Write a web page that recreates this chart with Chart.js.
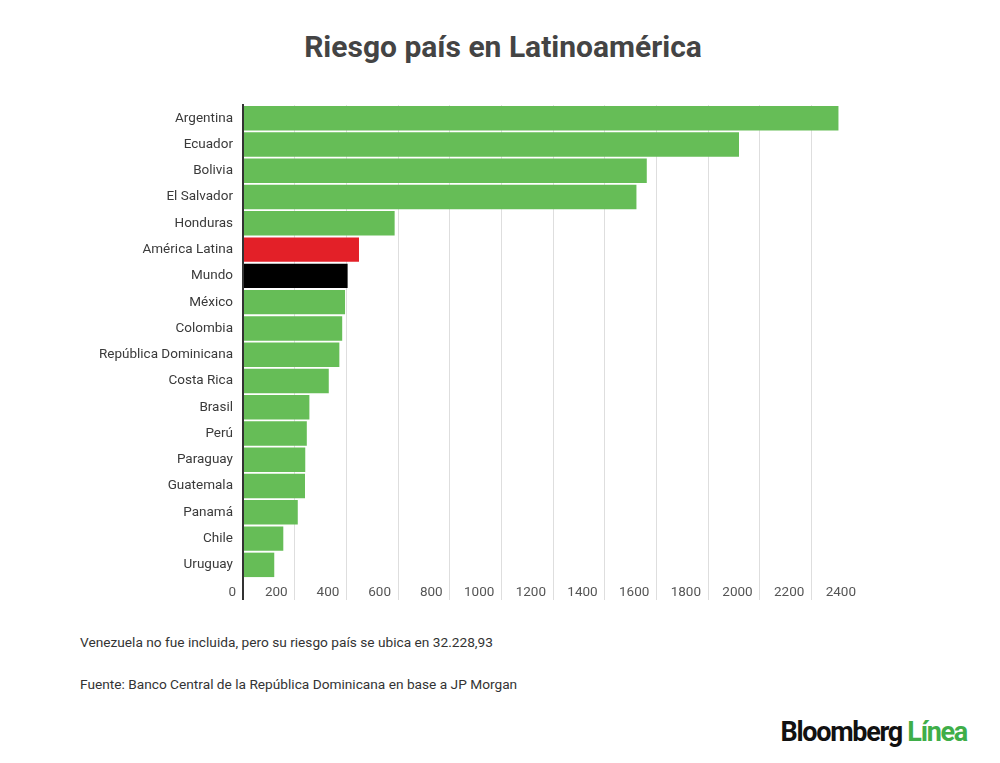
<!DOCTYPE html>
<html>
<head>
<meta charset="utf-8">
<script src="https://cdn.jsdelivr.net/npm/chart.js@4/dist/chart.umd.min.js"></script>
<style>
  html, body { margin: 0; padding: 0; background: #fff; }
  body { width: 1000px; height: 763px; position: relative; overflow: hidden; font-family: Roboto, sans-serif; }
  #title { position: absolute; top: 29px; left: 0; width: 1006px; text-align: center; font: bold 30px Roboto, sans-serif; color: #444; }
  #wrap { position: absolute; left: 0; top: 87px; width: 863px; height: 531px; }
  .note { position: absolute; left: 80px; font: 13.7px Roboto, sans-serif; color: #333; }
  #logo { position: absolute; right: 33px; top: 716px; font: bold 27px Roboto, sans-serif; letter-spacing: -1.3px; color: #111; }
  #logo span { color: #3fae49; }
</style>
</head>
<body>
<div id="title">Riesgo país en Latinoamérica</div>
<div id="wrap"><canvas id="c"></canvas></div>
<div class="note" style="top:634px">Venezuela no fue incluida, pero su riesgo país se ubica en 32.228,93</div>
<div class="note" style="top:676px">Fuente: Banco Central de la República Dominicana en base a JP Morgan</div>
<div id="logo">Bloomberg <span>Línea</span></div>
<script>
// ── Datos ──
const countries = [
  'Argentina', 'Ecuador', 'Bolivia', 'El Salvador', 'Honduras', 'América Latina', 'Mundo',
  'México', 'Colombia', 'República Dominicana', 'Costa Rica', 'Brasil', 'Perú', 'Paraguay',
  'Guatemala', 'Panamá', 'Chile', 'Uruguay',
];
const riskValues = [2305, 1920, 1563, 1523, 587, 449, 405, 395, 384, 373, 332, 257, 247, 241, 240, 212, 156, 121];
const xTicks = [0, 200, 400, 600, 800, 1000, 1200, 1400, 1600, 1800, 2000, 2200, 2400];

const GREEN = '#66bd57';
const barColors = countries.map(c => c === 'América Latina' ? '#e32028' : c === 'Mundo' ? '#000000' : GREEN);

new Chart(document.getElementById('c'), {
  type: 'bar',
  data: {
    labels: countries,
    datasets: [{
      data: riskValues,
      backgroundColor: barColors,
      borderWidth: 0,
      barPercentage: 0.93,
      categoryPercentage: 1,
    }],
  },
  options: {
    indexAxis: 'y',
    responsive: true,
    maintainAspectRatio: false,
    animation: false,
    layout: { padding: 0 },
    plugins: { legend: { display: false }, tooltip: { enabled: false } },
    scales: {
      x: {
        min: 0, max: 2400,
        afterBuildTicks: (scale) => { scale.ticks = xTicks.map(v => ({ value: v })); },
        afterFit: (scale) => { scale.height = 40; },
        grid: {
          color: (ctx) => ctx.tick && ctx.tick.value === 0 ? '#333' : '#dedede',
          lineWidth: (ctx) => ctx.tick && ctx.tick.value === 0 ? 2 : 1,
          tickLength: 22,
        },
        border: { display: false },
        ticks: {
          font: { family: 'Roboto', size: 13.5 }, color: '#555',
          align: 'end', labelOffset: -7, padding: -15, maxRotation: 0, autoSkip: false,
          callback: (v) => String(v),
        },
      },
      y: {
        afterFit: (scale) => { scale.width = 243; },
        grid: { display: false, drawTicks: false },
        border: { display: true, color: '#333', width: 2 },
        ticks: { font: { family: 'Roboto', size: 13.5 }, color: '#3a3a3a', padding: 10, autoSkip: false },
      },
    },
  },
});
</script>
</body>
</html>
